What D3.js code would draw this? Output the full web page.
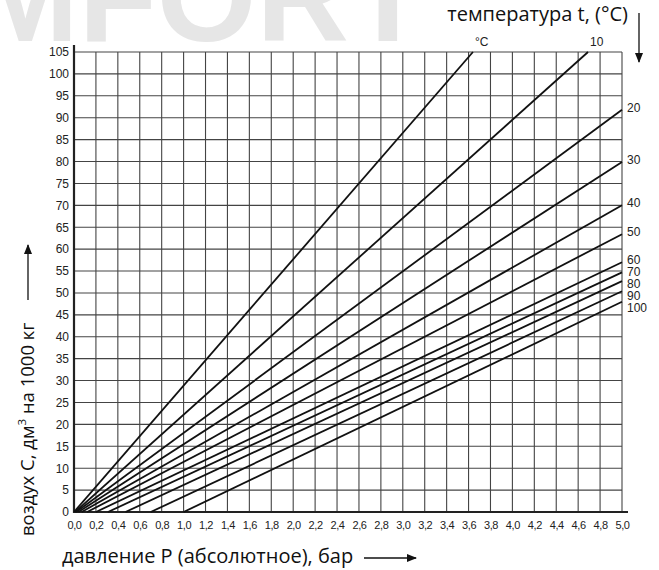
<!DOCTYPE html>
<html>
<head>
<meta charset="utf-8">
<script src="https://cdnjs.cloudflare.com/ajax/libs/d3/7.8.5/d3.min.js"></script>
<style>
  body { margin: 0; background: #fff; }
  svg { display: block; }
</style>
</head>
<body>
<div id="chart"></div>
<script>
// температура, °C
var temps = [0, 10, 20, 30, 40, 50, 60, 70, 80, 90, 100];
// давление, при котором линия начинается (C = 0), бар
var pStart = [0.0, 0.01, 0.02, 0.04, 0.07, 0.12, 0.2, 0.31, 0.47, 0.7, 1.0];
// конечная точка линии
var pEnd = [3.64, 4.69, 5.0, 5.0, 5.0, 5.0, 5.0, 5.0, 5.0, 5.0, 5.0];
var cEnd = [105, 105, 91.8, 79.9, 70.0, 63.4, 57.0, 54.7, 52.7, 50.4, 48.0];
var tempLabels = ["°C", "10", "20", "30", "40", "50", "60", "70", "80", "90", "100"];

var xTicks = d3.range(0, 26).map(function(i) { return i * 0.2; });
var yTicks = d3.range(0, 22).map(function(i) { return i * 5; });

var W = 659, H = 570;
var margin = {top: 52, right: 37, bottom: 58, left: 74},
    width = W - margin.left - margin.right,
    height = H - margin.top - margin.bottom;

var svg = d3.select("#chart")
    .append("svg")
        .attr("width", W)
        .attr("height", H);

// водяной знак
svg.append("text")
    .attr("x", -28)
    .attr("y", 41)
    .attr("font-family", "Liberation Sans, Arial, sans-serif")
    .attr("font-weight", "bold")
    .attr("font-size", 128)
    .attr("fill", "#e6e6e6")
    .text("MFORT");

var g = svg.append("g")
    .attr("transform", `translate(${margin.left}, ${margin.top})`);

var x = d3.scaleLinear().domain([0, 5]).range([0, width]);
var y = d3.scaleLinear().domain([0, 105]).range([height, 0]);

// сетка
g.append("g")
    .selectAll("line")
    .data(xTicks)
    .enter()
    .append("line")
    .attr("x1", d => x(d)).attr("x2", d => x(d))
    .attr("y1", 0).attr("y2", height)
    .attr("stroke", "#444")
    .attr("stroke-width", 1.1);

g.append("g")
    .selectAll("line")
    .data(yTicks)
    .enter()
    .append("line")
    .attr("x1", 0).attr("x2", width)
    .attr("y1", d => y(d)).attr("y2", d => y(d))
    .attr("stroke", "#444")
    .attr("stroke-width", 1.1);

// оси
var xAxis = g.append("g")
    .attr("transform", `translate(0, ${height})`)
    .call(d3.axisBottom(x)
        .tickValues(xTicks)
        .tickSize(0)
        .tickPadding(9)
        .tickFormat(d => d3.format(".1f")(d).replace(".", ",")));
xAxis.select(".domain").remove();
xAxis.selectAll("text")
    .attr("font-family", "Liberation Sans, Arial, sans-serif")
    .attr("font-size", 11)
    .attr("letter-spacing", -0.4)
    .attr("fill", "#222");

var yAxis = g.append("g")
    .call(d3.axisLeft(y)
        .tickValues(yTicks)
        .tickSize(0)
        .tickPadding(5));
yAxis.select(".domain").remove();
yAxis.selectAll("text")
    .attr("font-family", "Liberation Sans, Arial, sans-serif")
    .attr("font-size", 12)
    .attr("fill", "#222");

g.append("line")
    .attr("x1", 0).attr("x2", 0)
    .attr("y1", -7).attr("y2", height + 1)
    .attr("stroke", "#222").attr("stroke-width", 2.2);
g.append("line")
    .attr("x1", -1).attr("x2", width + 6)
    .attr("y1", height).attr("y2", height)
    .attr("stroke", "#222").attr("stroke-width", 2.2);

// линии температур
var lines = temps.map(function(t, i) {
    return [[pStart[i], 0], [pEnd[i], cEnd[i]]];
});

g.append("g")
    .selectAll("path")
    .data(lines)
    .enter()
    .append("path")
    .attr("fill", "none")
    .attr("stroke", "#111")
    .attr("stroke-width", 1.8)
    .attr("d", d3.line().x(d => x(d[0])).y(d => y(d[1])));

// подписи температур
var prevY = -Infinity;
temps.forEach(function(t, i) {
    var lx, ly;
    if (cEnd[i] >= 105) {
        lx = x(pEnd[i]) + 2;
        ly = y(105) - 6;
    } else {
        lx = width + 5;
        ly = Math.max(y(cEnd[i]) + 2, prevY + 12);
        prevY = ly;
    }
    g.append("text")
        .attr("x", lx)
        .attr("y", ly)
        .attr("font-family", "Liberation Sans, Arial, sans-serif")
        .attr("font-size", 12)
        .attr("fill", "#222")
        .text(tempLabels[i]);
});

// заголовки осей
var titleFont = "Open Sans, Noto Sans, sans-serif";

svg.append("text")
    .attr("x", 62)
    .attr("y", 563)
    .attr("font-family", titleFont)
    .attr("font-size", 20)
    .attr("fill", "#111")
    .text("давление Р (абсолютное), бар");

svg.append("defs").append("marker")
    .attr("id", "arr")
    .attr("viewBox", "0 0 10 10")
    .attr("refX", 9).attr("refY", 5)
    .attr("markerWidth", 10).attr("markerHeight", 10)
    .attr("markerUnits", "userSpaceOnUse")
    .attr("orient", "auto")
    .append("path")
    .attr("d", "M0,1 L10,5 L0,9 Z")
    .attr("fill", "#111");

svg.append("line")
    .attr("x1", 364).attr("x2", 416)
    .attr("y1", 558).attr("y2", 558)
    .attr("stroke", "#111").attr("stroke-width", 1.3)
    .attr("marker-end", "url(#arr)");

var yTitle = svg.append("text")
    .attr("transform", "translate(34, 536) rotate(-90)")
    .attr("font-family", titleFont)
    .attr("font-size", 18.5)
    .attr("fill", "#111");
yTitle.append("tspan").text("воздух С, дм");
yTitle.append("tspan").attr("dy", -8).attr("font-size", 11.5).text("3");
yTitle.append("tspan").attr("dy", 8).text(" на 1000 кг");

svg.append("line")
    .attr("x1", 28).attr("x2", 28)
    .attr("y1", 300).attr("y2", 245)
    .attr("stroke", "#111").attr("stroke-width", 1.3)
    .attr("marker-end", "url(#arr)");

svg.append("text")
    .attr("x", 628)
    .attr("y", 21)
    .attr("text-anchor", "end")
    .attr("font-family", titleFont)
    .attr("font-size", 20)
    .attr("fill", "#111")
    .text("температура t, (°C)");

svg.append("line")
    .attr("x1", 639).attr("x2", 639)
    .attr("y1", 13).attr("y2", 62)
    .attr("stroke", "#111").attr("stroke-width", 1.3)
    .attr("marker-end", "url(#arr)");
</script>
</body>
</html>
